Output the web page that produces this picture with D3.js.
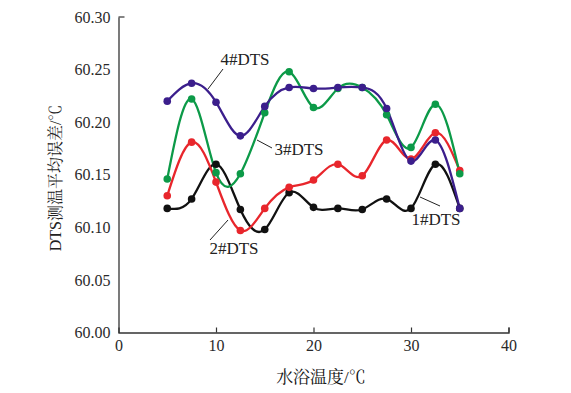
<!DOCTYPE html>
<html><head><meta charset="utf-8">
<script src="https://cdn.jsdelivr.net/npm/d3@7/dist/d3.min.js"></script>
<style>body{margin:0;background:#fff}svg{display:block}</style>
</head><body><svg id="c" width="571" height="393"></svg>
<script>
const temps = [5, 7.5, 10, 12.5, 15, 17.5, 20, 22.5, 25, 27.5, 30, 32.5, 35];
const dts1 = [60.118, 60.127, 60.160, 60.117, 60.098, 60.133, 60.119, 60.118, 60.117, 60.127, 60.118, 60.160, 60.118];
const dts2 = [60.130, 60.181, 60.143, 60.097, 60.118, 60.138, 60.145, 60.160, 60.149, 60.183, 60.165, 60.190, 60.154];
const dts3 = [60.146, 60.222, 60.152, 60.151, 60.209, 60.248, 60.214, 60.232, 60.233, 60.207, 60.176, 60.217, 60.151];
const dts4 = [60.220, 60.237, 60.219, 60.187, 60.215, 60.233, 60.232, 60.233, 60.233, 60.213, 60.163, 60.183, 60.118];
const xTicks = [0, 10, 20, 30, 40];
const yTicks = [60.00, 60.05, 60.10, 60.15, 60.20, 60.25, 60.30];
const seriesNames = ["1#DTS", "2#DTS", "3#DTS", "4#DTS"];
const colors = ["#111111", "#e8262c", "#0c9a48", "#3b1e8c"];

const svg = d3.select("#c");
const x = d3.scaleLinear().domain([0, 40]).range([118.5, 508.5]);
const y = d3.scaleLinear().domain([60.00, 60.30]).range([332.5, 17]);
const serif = "'Liberation Serif','DejaVu Serif',serif";
const cjk = "'Liberation Serif','Noto Serif CJK SC','Noto Sans CJK SC',serif";

// axes
const gx = svg.append("g").attr("transform", `translate(0,${y(60)})`)
  .call(d3.axisBottom(x).tickValues(xTicks).tickSize(-5).tickPadding(7).tickFormat(d3.format("d")));
const gy = svg.append("g").attr("transform", `translate(${x(0)},0)`)
  .call(d3.axisLeft(y).tickValues(yTicks).tickSize(0).tickPadding(8).tickFormat(d3.format(".2f")));
[gx, gy].forEach(g => {
  g.select(".domain").attr("stroke", "#333").attr("stroke-width", 1.3);
  g.selectAll(".tick line").attr("stroke", "#333").attr("stroke-width", 1.2);
  g.selectAll("text").attr("font-family", serif).attr("font-size", 16).attr("fill", "#2a2a2a");
});
gx.selectAll(".tick").filter(d => d === 0).select("line").remove();
// top tick on y axis
svg.append("line").attr("x1", x(0)).attr("x2", x(0) + 6).attr("y1", y(60.30)).attr("y2", y(60.30))
  .attr("stroke", "#333").attr("stroke-width", 1.2);

// titles
svg.append("text").attr("x", 321).attr("y", 383).attr("text-anchor", "middle")
  .attr("font-family", cjk).attr("font-size", 17).attr("fill", "#111").text("水浴温度/℃");
svg.append("text").attr("transform", "translate(61,178) rotate(-90)").attr("text-anchor", "middle")
  .attr("font-family", cjk).attr("font-size", 16).attr("fill", "#222").text("DTS测温平均误差/℃");

// series
const all = [dts1, dts2, dts3, dts4];
const line = d3.line().x((d, i) => x(temps[i])).y(d => y(d)).curve(d3.curveNatural);
all.forEach((vals, k) => {
  svg.append("path").datum(vals).attr("d", line).attr("fill", "none")
    .attr("stroke", colors[k]).attr("stroke-width", 2.3);
});
all.forEach((vals, k) => {
  svg.append("g").selectAll("circle").data(vals).join("circle")
    .attr("cx", (d, i) => x(temps[i])).attr("cy", d => y(d)).attr("r", 3.8).attr("fill", colors[k]);
});

// labels with leader lines
const labels = [
  {name: seriesNames[3], tx: 245, ty: 65, l: [223, 69, 208, 89]},
  {name: seriesNames[2], tx: 299, ty: 155, l: [257, 140, 272, 148]},
  {name: seriesNames[1], tx: 234, ty: 254, l: [210, 240, 228, 220]},
  {name: seriesNames[0], tx: 436, ty: 225, l: [420, 197, 440, 206]}
];
labels.forEach(o => {
  svg.append("line").attr("x1", o.l[0]).attr("y1", o.l[1]).attr("x2", o.l[2]).attr("y2", o.l[3])
    .attr("stroke", "#222").attr("stroke-width", 1);
  svg.append("text").attr("x", o.tx).attr("y", o.ty).attr("text-anchor", "middle")
    .attr("font-family", serif).attr("font-size", 17).attr("fill", "#222").text(o.name);
});
</script></body></html>
